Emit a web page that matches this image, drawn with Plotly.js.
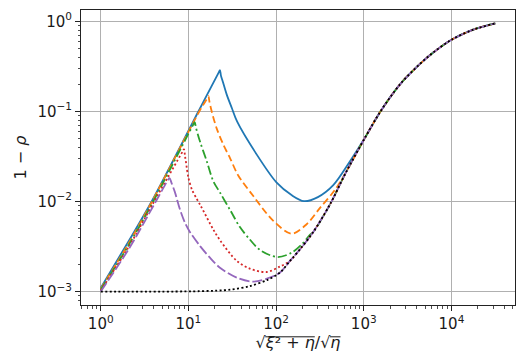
<!DOCTYPE html>
<html><head><meta charset="utf-8">
<script src="https://cdn.plot.ly/plotly-3.0.1.min.js"></script>
<style>html,body{margin:0;padding:0;background:#fff}#chart{width:527px;height:359px}</style>
</head><body><div id="chart"></div>
<script>
// Black dotted reference curve (also the common tail all curves merge into)
const blackX = [1, 13.6, 30, 50, 80, 111, 144, 187, 266, 412, 638, 1032, 1550, 2590, 4200, 6000, 10000, 17740, 31623];
const blackY = [0.001, 0.00101, 0.00105, 0.00115, 0.00135, 0.00163, 0.00219, 0.00294, 0.0046, 0.0093, 0.0218, 0.051, 0.1, 0.2, 0.325, 0.44, 0.625, 0.81, 0.95];

const blueX = [1, 2, 3.81, 13, 22.2, 22.9, 23.5, 24.6, 27.3, 31.2, 36, 60, 101.6, 150, 208, 300, 449, 697];
const blueY = [0.0011, 0.0034, 0.01, 0.1, 0.272, 0.288, 0.25, 0.217, 0.155, 0.11, 0.077, 0.0334, 0.0162, 0.0118, 0.0101, 0.0112, 0.0152, 0.028];

const orangeX = [1, 2.03, 3.85, 13.3, 16.4, 16.9, 17.4, 18.4, 21, 25, 30, 37, 55, 93, 151, 223, 317, 470];
const orangeY = [0.00107, 0.0033, 0.01, 0.1, 0.14, 0.148, 0.128, 0.101, 0.065, 0.043, 0.030, 0.0195, 0.0115, 0.0061, 0.0044, 0.0056, 0.0085, 0.0135];

const greenX = [1, 2.05, 3.9, 11.4, 11.8, 12.2, 13.6, 16.2, 19.2, 23, 30, 38.7, 50, 65.5, 103, 150, 200, 244];
const greenY = [0.00105, 0.0032, 0.0097, 0.072, 0.076, 0.066, 0.046, 0.028, 0.0169, 0.0125, 0.008, 0.0052, 0.0038, 0.0029, 0.00242, 0.0027, 0.0034, 0.0043];

const redX = [1, 2.07, 3.95, 8.6, 8.9, 9.15, 9.4, 10, 11, 12.4, 13.6, 15, 19.2, 23, 35.5, 50, 78, 111];
const redY = [0.00103, 0.0031, 0.0095, 0.036, 0.038, 0.032, 0.027, 0.0184, 0.0135, 0.0108, 0.0092, 0.0077, 0.0049, 0.0037, 0.0022, 0.0018, 0.00165, 0.0019];

const purpleX = [1, 2.1, 4.25, 5.9, 6.1, 6.4, 7, 8, 9.15, 10.4, 13.6, 17.6, 22.9, 35.5, 55, 80];
const purpleY = [0.001, 0.003, 0.01, 0.0176, 0.0182, 0.0162, 0.0128, 0.0082, 0.0058, 0.0046, 0.0032, 0.00238, 0.00184, 0.00143, 0.00129, 0.0014];

const xTickVals = [1, 10, 100, 1000, 10000];
const xTickText = ['10<sup>0</sup>', '10<sup>1</sup>', '10<sup>2</sup>', '10<sup>3</sup>', '10<sup>4</sup>'];
const yTickVals = [0.001, 0.01, 0.1, 1];
const yTickText = ['10<sup>\u22123</sup>', '10<sup>\u22122</sup>', '10<sup>\u22121</sup>', '10<sup>0</sup>'];

function withTail(xs, ys) {
  const last = xs[xs.length - 1];
  const ox = xs.slice(), oy = ys.slice();
  for (let i = 0; i < blackX.length; i++) {
    if (blackX[i] > last) { ox.push(blackX[i]); oy.push(blackY[i]); }
  }
  return {x: ox, y: oy};
}

const W = 1.8;
const series = [
  {d: withTail(blueX, blueY), color: '#1f77b4', dash: 'solid'},
  {d: withTail(orangeX, orangeY), color: '#ff7f0e', dash: '7px,3.5px'},
  {d: withTail(greenX, greenY), color: '#2ca02c', dash: '9px,3px,2px,3px'},
  {d: withTail(redX, redY), color: '#d62728', dash: '2px,2.4px'},
  {d: withTail(purpleX, purpleY), color: '#9467bd', dash: '10px,3px'},
  {d: {x: blackX, y: blackY}, color: '#000000', dash: '2px,2.4px'}
];
const traces = series.map(s => ({
  type: 'scatter', mode: 'lines', x: s.d.x, y: s.d.y,
  line: {color: s.color, width: W, dash: s.dash, shape: 'spline', smoothing: 0.9}, hoverinfo: 'skip'
}));

const axisCommon = {
  type: 'log', tickmode: 'array', ticks: 'outside', ticklen: 5, tickwidth: 1, tickcolor: '#222',
  showline: true, linecolor: '#222', linewidth: 1, mirror: true,
  showgrid: true, gridcolor: '#b0b0b0', gridwidth: 1, zeroline: false, automargin: false,
  tickfont: {family: 'DejaVu Sans', size: 15, color: '#1a1a1a'},
  minor: {ticks: 'outside', ticklen: 2.5, tickwidth: 0.8, tickcolor: '#222', dtick: 'D1', showgrid: false}
};

const xTitle = '\u221a<i>\u03be</i>\u00b2 + <i>\u03b7</i>/\u221a<i>\u03b7</i>';

const layout = {
  width: 527, height: 359,
  margin: {l: 81, r: 12, t: 10, b: 54, pad: 0},
  paper_bgcolor: '#ffffff', plot_bgcolor: '#ffffff',
  showlegend: false,
  font: {family: 'DejaVu Sans', size: 15, color: '#1a1a1a'},
  xaxis: Object.assign({}, axisCommon, {
    range: [-0.225, 4.725], tickvals: xTickVals, ticktext: xTickText,
    title: {text: xTitle, font: {family: 'DejaVu Sans', size: 16, color: '#1a1a1a'}, standoff: 2}
  }),
  yaxis: Object.assign({}, axisCommon, {
    range: [-3.149, 0.127], tickvals: yTickVals, ticktext: yTickText,
    title: {text: '1 \u2212 <i>\u03c1</i>', font: {family: 'DejaVu Sans', size: 16, color: '#1a1a1a'}, standoff: 6}
  })
};

Plotly.newPlot('chart', traces, layout, {displayModeBar: false, staticPlot: true}).then(function (gd) {
  // radical overlines for the x-axis title
  const t = gd.querySelector('text.xtitle');
  if (!t || !t.getExtentOfChar || t.getNumberOfChars() < 10) return;
  const m = t.getCTM();
  const toScreen = (x, y) => ({x: m.a * x + m.c * y + m.e, y: m.b * x + m.d * y + m.f});
  const ext = i => t.getExtentOfChar(i);
  const sz = gd._fullLayout._size;
  const e0 = ext(0);
  const yTop = e0.y + 0.2 * e0.height;
  const spans = [[1, 6], [9, 9]];
  const shapes = spans.map(([a, b]) => {
    const ea = ext(a), eb = ext(b);
    const p0 = toScreen(ea.x - 0.5, yTop), p1 = toScreen(eb.x + eb.width, yTop);
    return {
      type: 'line', xref: 'paper', yref: 'paper', layer: 'above',
      x0: (p0.x - sz.l) / sz.w, x1: (p1.x - sz.l) / sz.w,
      y0: 1 - (p0.y - sz.t) / sz.h, y1: 1 - (p1.y - sz.t) / sz.h,
      line: {color: '#1a1a1a', width: 1}
    };
  });
  Plotly.relayout(gd, {shapes: shapes});
});
</script></body></html>
